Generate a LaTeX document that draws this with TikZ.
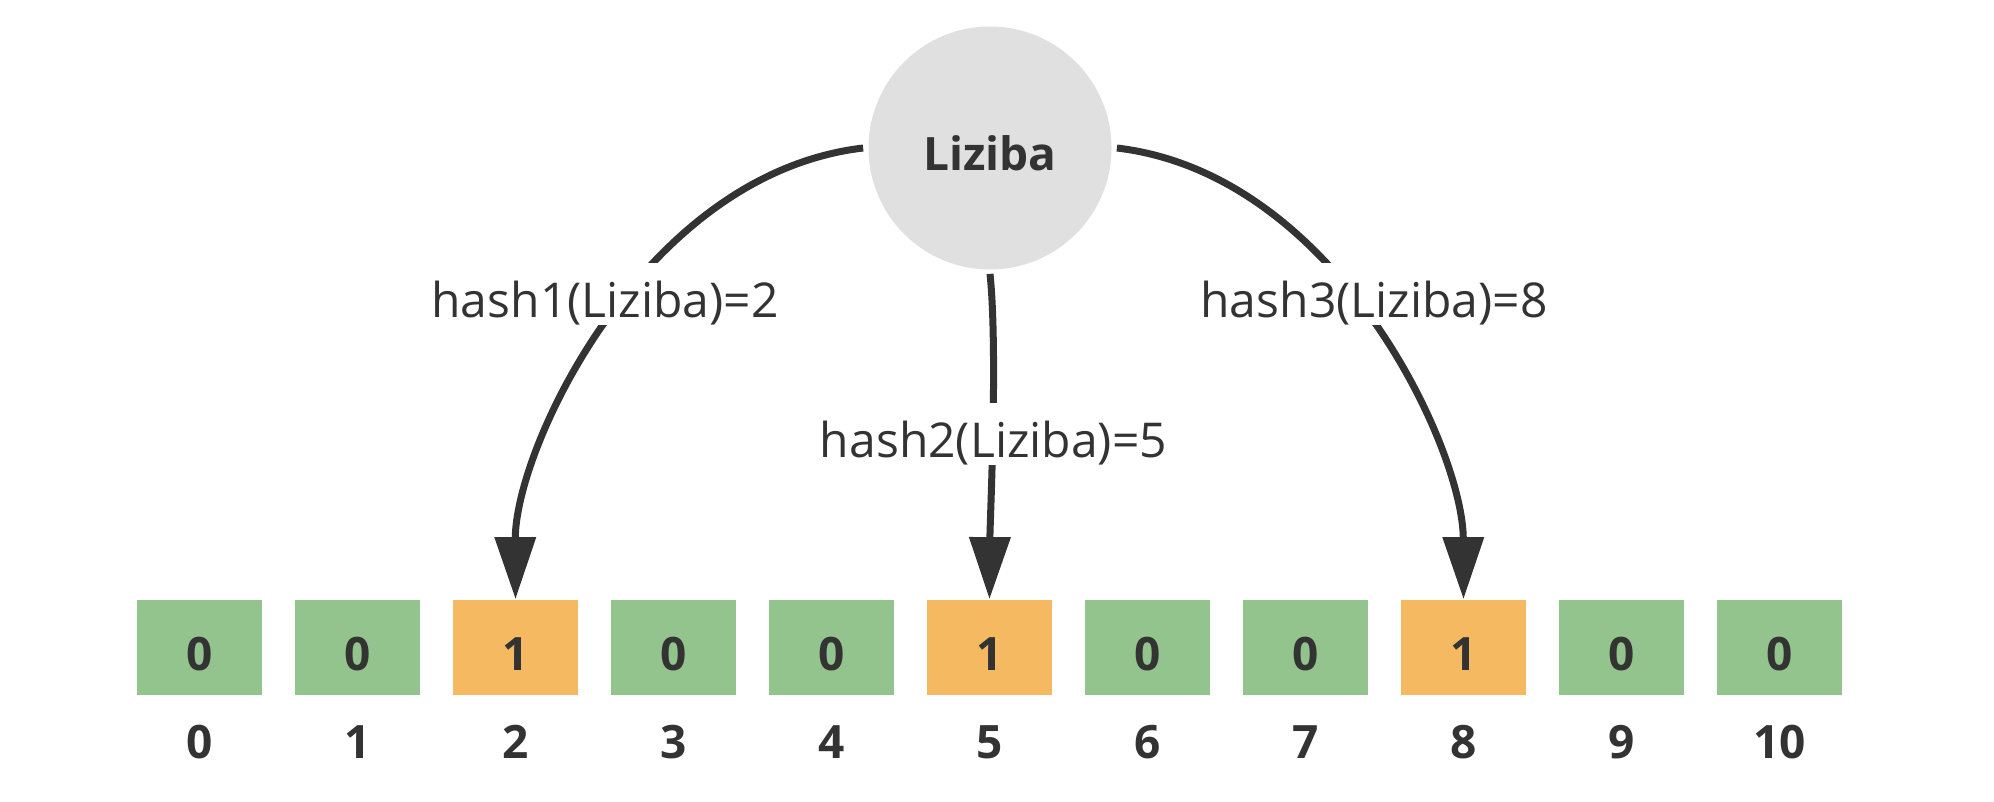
\documentclass[tikz,border=0pt]{standalone}
\usepackage{fontspec}
\setmainfont{Open Sans}
\usetikzlibrary{arrows.meta,calc}
\definecolor{cgreen}{HTML}{93C48D}
\definecolor{corange}{HTML}{F5B961}
\definecolor{cgray}{HTML}{E0E0E0}
\definecolor{cdark}{HTML}{333333}
\begin{document}
\begin{tikzpicture}[x=0.5pt,y=-0.5pt,
  cell/.style={minimum width=62.5pt, minimum height=47.5pt, inner sep=0pt,
    font=\fontsize{23}{23}\selectfont\bfseries, text=cdark,
    text height=23pt, text depth=0pt},
  idx/.style={font=\fontsize{23}{23}\selectfont\bfseries, text=cdark,
    anchor=base, inner sep=0pt},
  key/.style={circle, fill=cgray, minimum size=121.5pt, inner sep=0pt,
    font=\fontsize{23}{23}\selectfont\bfseries, text=cdark,
    text height=23pt, text depth=0pt},
  lbl/.style={fill=white, inner sep=0pt, text height=27.5pt, text depth=3.5pt,
    anchor=base, font=\fontsize{24}{24}\selectfont, text=cdark},
  link/.style={draw=cdark, line width=3.5pt, -{Triangle[length=31pt,width=20pt]}},
]
\fill[white] (0,0) rectangle (1994,802);
\useasboundingbox (0,0) rectangle (1994,802);

\node[key] (L) at (990,148) {Liziba};

\foreach \i/\v/\c in {0/0/cgreen,1/0/cgreen,2/1/corange,3/0/cgreen,4/0/cgreen,
  5/1/corange,6/0/cgreen,7/0/cgreen,8/1/corange,9/0/cgreen,10/0/cgreen}{
  \node[cell, fill=\c] (b\i) at ({199.5+158*\i},647) {\v};
  \node[idx] (n\i) at ($(b\i.south)+(0,64)$) {\i};
}

\draw[link] ($(L.180)+(-5,0)$) .. controls (643,174) and (515,449) .. (b2.north);
\draw[link] ($(L.south)+(0,4)$) .. controls (998,350) and (990,520) .. (b5.north);
\draw[link] ($(L.0)+(5,0)$) .. controls (1337,174) and (1463,449) .. (b8.north);

\node[lbl] (h1) at (605,318) {hash1(Liziba)=2};
\node[lbl] (h2) at (993.5,458) {hash2(Liziba)=5};
\node[lbl] (h3) at (1374,318) {hash3(Liziba)=8};
\end{tikzpicture}
\end{document}
